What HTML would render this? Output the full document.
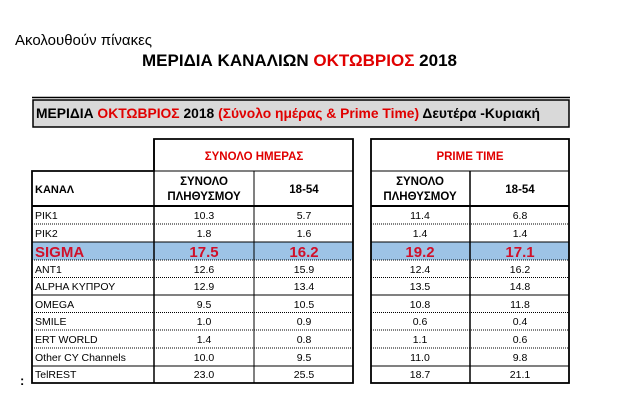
<!DOCTYPE html>
<html><head><meta charset="utf-8"><style>
body{margin:0;background:#fff;width:644px;height:419px;overflow:hidden}
svg{display:block;font-family:"Liberation Sans","DejaVu Sans",sans-serif}
</style></head><body>
<svg width="644" height="419" xmlns="http://www.w3.org/2000/svg">
<text x="15" y="45" font-size="15" fill="#000">Ακολουθούν πίνακες</text>
<text x="142" y="66" font-size="17" font-weight="bold" fill="#000" textLength="315">ΜΕΡΙΔΙΑ ΚΑΝΑΛΙΩΝ <tspan fill="#e00000">ΟΚΤΩΒΡΙΟΣ</tspan> 2018</text>

<line x1="32" y1="97.5" x2="570" y2="97.5" stroke="#000" stroke-width="1.5"/>
<rect x="33" y="100" width="536" height="27" fill="#d9d9d9" stroke="#000" stroke-width="1.5"/>
<text x="36" y="118" font-size="13.5" font-weight="bold" fill="#000" textLength="504" lengthAdjust="spacingAndGlyphs">ΜΕΡΙΔΙΑ <tspan fill="#e00000">ΟΚΤΩΒΡΙΟΣ</tspan> 2018 <tspan fill="#e00000">(Σύνολο ημέρας &amp; Prime Time)</tspan>  Δευτέρα -Κυριακή</text>

<rect x="32" y="242" width="321" height="18" fill="#9dc3e6"/>
<rect x="371" y="242" width="198" height="18" fill="#9dc3e6"/>

<g stroke="#000" fill="none">
<path d="M154 139H353V383H32V171H154Z" stroke-width="1.8"/>
<line x1="154" y1="139" x2="154" y2="383" stroke-width="1.5"/>
<line x1="254" y1="171" x2="254" y2="383" stroke-width="1"/>
<line x1="154" y1="171" x2="353" y2="171" stroke-width="1"/>
<line x1="32" y1="206" x2="353" y2="206" stroke-width="2"/>
<rect x="371" y="139" width="198" height="244" stroke-width="1.8"/>
<line x1="470" y1="171" x2="470" y2="383" stroke-width="1.5"/>
<line x1="371" y1="171" x2="569" y2="171" stroke-width="1"/>
<line x1="371" y1="206" x2="569" y2="206" stroke-width="2"/>
</g>
<g stroke="#000" stroke-width="1">
<line x1="32" y1="242" x2="353" y2="242"/><line x1="371" y1="242" x2="569" y2="242"/>
<line x1="32" y1="295" x2="353" y2="295"/><line x1="371" y1="295" x2="569" y2="295"/>
<line x1="32" y1="366" x2="353" y2="366"/><line x1="371" y1="366" x2="569" y2="366"/>
</g>
<g stroke="#000" stroke-width="1" stroke-dasharray="1,1">
<line x1="32" y1="224" x2="353" y2="224"/><line x1="371" y1="224" x2="569" y2="224"/>
<line x1="32" y1="260" x2="353" y2="260"/><line x1="371" y1="260" x2="569" y2="260"/>
<line x1="32" y1="277.5" x2="353" y2="277.5"/><line x1="371" y1="277.5" x2="569" y2="277.5"/>
<line x1="32" y1="312.5" x2="353" y2="312.5"/><line x1="371" y1="312.5" x2="569" y2="312.5"/>
<line x1="32" y1="330" x2="353" y2="330"/><line x1="371" y1="330" x2="569" y2="330"/>
<line x1="32" y1="348" x2="353" y2="348"/><line x1="371" y1="348" x2="569" y2="348"/>
</g>

<g font-size="11.5" font-weight="bold" text-anchor="middle">
<text x="254" y="160" fill="#e00000">ΣΥΝΟΛΟ ΗΜΕΡΑΣ</text>
<text x="470" y="160" fill="#e00000">PRIME TIME</text>
<text x="204" y="185">ΣΥΝΟΛΟ</text><text x="204" y="200">ΠΛΗΘΥΣΜΟΥ</text>
<text x="304" y="193">18-54</text>
<text x="420" y="185">ΣΥΝΟΛΟ</text><text x="420" y="200">ΠΛΗΘΥΣΜΟΥ</text>
<text x="520" y="193">18-54</text>
</g>
<text x="35" y="193" font-size="11" font-weight="bold">ΚΑΝΑΛ</text>

<g font-size="10.5" fill="#000">
<text x="35" y="219">PIK1</text>
<text x="35" y="237">PIK2</text>
<text x="35" y="273">ANT1</text>
<text x="35" y="290">ALPHA ΚΥΠΡΟΥ</text>
<text x="35" y="308">OMEGA</text>
<text x="35" y="325">SMILE</text>
<text x="35" y="343">ERT WORLD</text>
<text x="35" y="361">Other CY Channels</text>
<text x="35" y="378">TelREST</text>
</g>
<text x="35" y="257" font-size="15" font-weight="bold" fill="#d0102a">SIGMA</text>

<g font-size="10.5" text-anchor="middle" fill="#000">
<text x="204" y="219">10.3</text><text x="304" y="219">5.7</text><text x="420" y="219">11.4</text><text x="520" y="219">6.8</text>
<text x="204" y="237">1.8</text><text x="304" y="237">1.6</text><text x="420" y="237">1.4</text><text x="520" y="237">1.4</text>
<text x="204" y="273">12.6</text><text x="304" y="273">15.9</text><text x="420" y="273">12.4</text><text x="520" y="273">16.2</text>
<text x="204" y="290">12.9</text><text x="304" y="290">13.4</text><text x="420" y="290">13.5</text><text x="520" y="290">14.8</text>
<text x="204" y="308">9.5</text><text x="304" y="308">10.5</text><text x="420" y="308">10.8</text><text x="520" y="308">11.8</text>
<text x="204" y="325">1.0</text><text x="304" y="325">0.9</text><text x="420" y="325">0.6</text><text x="520" y="325">0.4</text>
<text x="204" y="343">1.4</text><text x="304" y="343">0.8</text><text x="420" y="343">1.1</text><text x="520" y="343">0.6</text>
<text x="204" y="361">10.0</text><text x="304" y="361">9.5</text><text x="420" y="361">11.0</text><text x="520" y="361">9.8</text>
<text x="204" y="378">23.0</text><text x="304" y="378">25.5</text><text x="420" y="378">18.7</text><text x="520" y="378">21.1</text>
</g>
<g font-size="15" font-weight="bold" text-anchor="middle" fill="#d0102a">
<text x="204" y="257">17.5</text><text x="304" y="257">16.2</text><text x="420" y="257">19.2</text><text x="520" y="257">17.1</text>
</g>
<text x="20" y="385" font-size="13" font-weight="bold">:</text>
</svg>
</body></html>
